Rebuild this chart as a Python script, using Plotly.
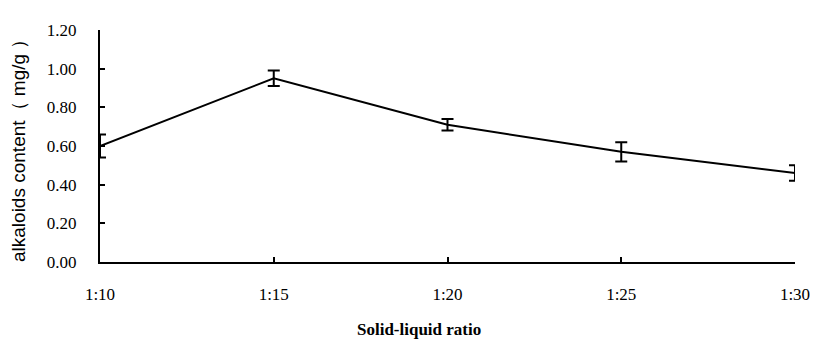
import plotly.graph_objects as go

# Solid-liquid ratio vs alkaloid content
ratios = ["1:10", "1:15", "1:20", "1:25", "1:30"]
content = [0.60, 0.95, 0.71, 0.57, 0.46]
content_err = [0.06, 0.04, 0.03, 0.05, 0.04]
y_ticks = [0.0, 0.2, 0.4, 0.6, 0.8, 1.0, 1.2]

positions = list(range(len(ratios)))

fig = go.Figure()
fig.add_trace(go.Scatter(
    x=positions,
    y=content,
    mode="lines",
    line=dict(color="black", width=2),
    error_y=dict(type="data", array=content_err, visible=True,
                 color="black", thickness=2, width=6),
    cliponaxis=False,
    showlegend=False,
))

fig.update_layout(
    width=822, height=345,
    margin=dict(l=100, r=19, t=30, b=83),
    plot_bgcolor="white", paper_bgcolor="white",
    font=dict(family="Liberation Serif", size=17, color="black"),
)
fig.update_xaxes(
    range=[0, 4], tickmode="array", tickvals=positions, ticktext=ratios,
    showline=True, linecolor="black", linewidth=2, mirror=False,
    ticks="inside", ticklen=5, tickwidth=1.5, tickcolor="black",
    ticklabelstandoff=16,
    showgrid=False, zeroline=False,
)
fig.update_yaxes(
    range=[0, 1.2], tickmode="array", tickvals=y_ticks,
    ticktext=[f"{v:.2f}" for v in y_ticks],
    showline=True, linecolor="black", linewidth=2,
    ticks="inside", ticklen=5, tickwidth=1.5, tickcolor="black",
    ticklabelstandoff=18,
    showgrid=False, zeroline=False,
)

# Axis titles
fig.add_annotation(
    text="<b>Solid-liquid ratio</b>", xref="paper", yref="paper",
    x=0.459, y=-0.293, xanchor="center", yanchor="middle", showarrow=False,
    font=dict(family="Liberation Serif", size=17, color="black"),
)
fig.add_annotation(
    text="alkaloids content（ mg/g ）", xref="paper", yref="paper",
    x=-0.118, y=0.5, xanchor="center", yanchor="middle", showarrow=False,
    textangle=-90,
    font=dict(family="Liberation Sans", size=19, color="black"),
)

fig.write_html("out.html")
